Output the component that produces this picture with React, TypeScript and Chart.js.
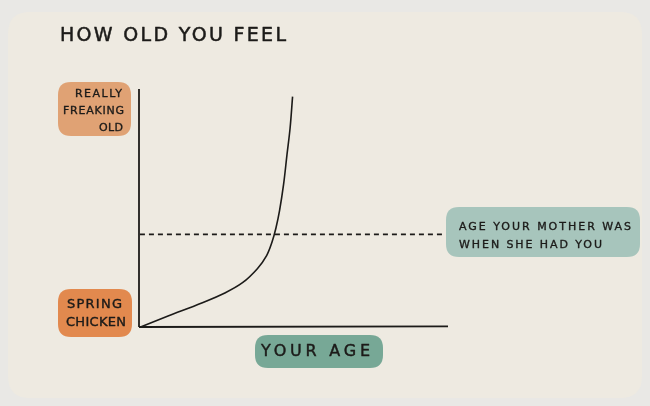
import React, { useEffect, useRef } from "react";
import { Chart, registerables } from "chart.js";

Chart.register(...registerables);

// Data (age units on x, "feel" units on y, both 0..100)
const curveAge = [0.5, 9.4, 20.3, 27.8, 33.5, 38.3, 41.3, 43.0, 44.3, 45.5, 46.8, 47.9, 48.9, 49.7];
const curveFeel = [0, 4.6, 10.1, 14.3, 18.6, 24.5, 30.0, 35.5, 41.5, 49.0, 60.0, 72.5, 83.6, 96.8];
const motherAgeLevel = 38.9;
const motherLineRange = [0.3, 98.7];
const axisMax = [100, 100];
const titleText = "HOW OLD YOU FEEL";
const topLabel = ["REALLY", "FREAKING", "OLD"];
const bottomLabel = ["SPRING", "CHICKEN"];
const motherLabel = ["AGE YOUR MOTHER WAS", "WHEN SHE HAD YOU"];
const xLabel = "YOUR AGE";

const FONT = "'DejaVu Sans', sans-serif";
const INK = "#1c1b19";

function roundRect(ctx: CanvasRenderingContext2D, x: number, y: number, w: number, h: number, r: number, color: string) {
  ctx.save();
  ctx.fillStyle = color;
  ctx.beginPath();
  ctx.moveTo(x + r, y);
  ctx.lineTo(x + w - r, y);
  ctx.quadraticCurveTo(x + w, y, x + w, y + r);
  ctx.lineTo(x + w, y + h - r);
  ctx.quadraticCurveTo(x + w, y + h, x + w - r, y + h);
  ctx.lineTo(x + r, y + h);
  ctx.quadraticCurveTo(x, y + h, x, y + h - r);
  ctx.lineTo(x, y + r);
  ctx.quadraticCurveTo(x, y, x + r, y);
  ctx.closePath();
  ctx.fill();
  ctx.restore();
}

function fitText(ctx: CanvasRenderingContext2D, text: string, x1: number, x2: number, y: number, size: number, stroke: number) {
  ctx.save();
  ctx.font = `${size}px ${FONT}`;
  ctx.fillStyle = INK;
  ctx.strokeStyle = INK;
  ctx.lineWidth = stroke;
  ctx.lineJoin = "round";
  ctx.textBaseline = "middle";
  ctx.textAlign = "left";
  (ctx as any).letterSpacing = "0px";
  const w = ctx.measureText(text).width;
  const n = text.length;
  const ls = n > 1 ? (x2 - x1 - w) / (n - 1) : 0;
  (ctx as any).letterSpacing = `${ls}px`;
  ctx.fillText(text, x1, y);
  if (stroke > 0) ctx.strokeText(text, x1, y);
  ctx.restore();
}

const decorPlugin = {
  id: "decor",
  beforeDraw(chart: any) {
    const ctx = chart.ctx as CanvasRenderingContext2D;
    ctx.save();
    ctx.fillStyle = "#e9e8e5";
    ctx.fillRect(0, 0, chart.width, chart.height);
    ctx.restore();
    roundRect(ctx, 8, 12, 634, 386, 22, "#eeeae1");
    roundRect(ctx, 58, 82, 73, 54, 13, "#e0a274");
    roundRect(ctx, 58, 289, 74, 48, 13, "#e2894e");
    roundRect(ctx, 446, 207, 194, 50, 13, "#a7c5bc");
    roundRect(ctx, 255, 335, 128, 33, 13, "#77a896");
  },
  afterDraw(chart: any) {
    const ctx = chart.ctx as CanvasRenderingContext2D;
    fitText(ctx, titleText, 60, 286, 36, 19, 0.5);
    fitText(ctx, topLabel[0], 75, 122, 94, 11, 0.35);
    fitText(ctx, topLabel[1], 63, 124, 111, 11, 0.35);
    fitText(ctx, topLabel[2], 99, 123, 128, 11, 0.35);
    fitText(ctx, bottomLabel[0], 67, 122, 305, 13, 0.4);
    fitText(ctx, bottomLabel[1], 66, 126, 323, 13, 0.4);
    fitText(ctx, motherLabel[0], 459, 631, 227, 11, 0.35);
    fitText(ctx, motherLabel[1], 459, 602, 245, 11, 0.35);
    fitText(ctx, xLabel, 261, 370, 352, 16, 0.45);
  },
};

export default function App() {
  const ref = useRef<HTMLCanvasElement | null>(null);
  useEffect(() => {
    if (!ref.current) return;
    const chart = new Chart(ref.current, {
      type: "line",
      data: {
        datasets: [
          {
            data: [{ x: 0, y: 0 }, { x: 0, y: axisMax[1] }],
            borderColor: INK,
            borderWidth: 1.8,
            pointRadius: 0,
            clip: false as any,
          },
          {
            data: [{ x: 0, y: 0 }, { x: axisMax[0], y: 0.3 }],
            borderColor: INK,
            borderWidth: 1.8,
            pointRadius: 0,
            clip: false as any,
          },
          {
            data: [{ x: motherLineRange[0], y: motherAgeLevel }, { x: motherLineRange[1], y: motherAgeLevel }],
            borderColor: INK,
            borderWidth: 1.6,
            borderDash: [5, 4],
            pointRadius: 0,
            clip: false as any,
          },
          {
            data: curveAge.map((a, i) => ({ x: a, y: curveFeel[i] })),
            borderColor: INK,
            borderWidth: 1.6,
            pointRadius: 0,
            tension: 0.35,
            clip: false as any,
          },
        ],
      },
      options: {
        animation: false,
        responsive: false,
        maintainAspectRatio: false,
        devicePixelRatio: 1,
        layout: { padding: { left: 139, right: 202, top: 89, bottom: 79 } },
        plugins: { legend: { display: false }, tooltip: { enabled: false }, title: { display: false } },
        scales: {
          x: { type: "linear", min: 0, max: axisMax[0], display: false },
          y: { type: "linear", min: 0, max: axisMax[1], display: false },
        },
      },
      plugins: [decorPlugin],
    });
    return () => chart.destroy();
  }, []);
  return (
    <div style={{ position: "absolute", left: 0, top: 0, width: 650, height: 406 }}>
      <canvas ref={ref} width={650} height={406} style={{ width: 650, height: 406 }} />
    </div>
  );
}
